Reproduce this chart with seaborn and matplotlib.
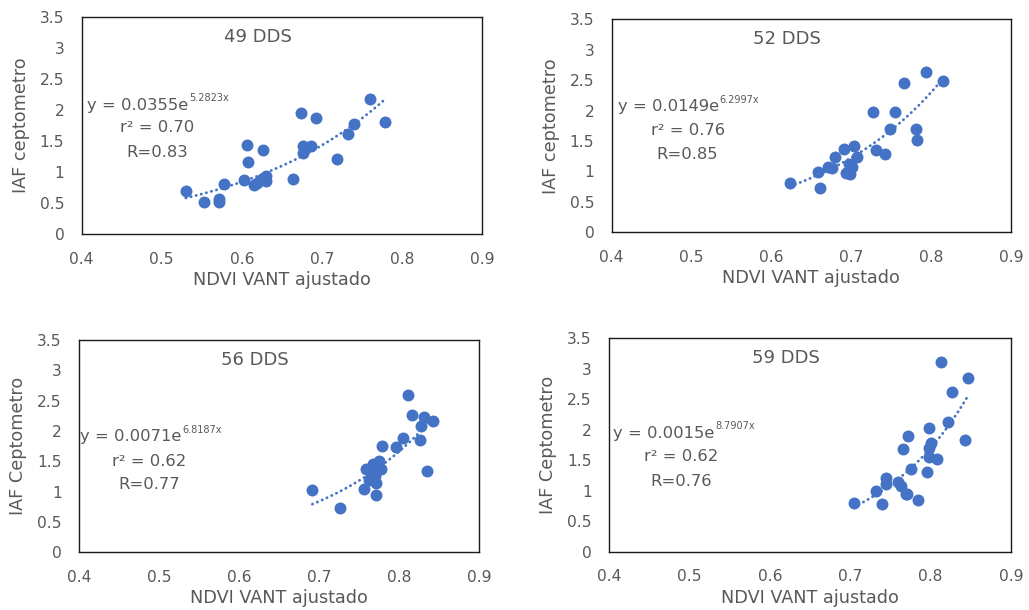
import numpy as np
import pandas as pd
import seaborn as sns
import matplotlib
matplotlib.use("Agg")
import matplotlib.pyplot as plt

# ---------------- data ----------------
titles = ["49 DDS", "52 DDS", "56 DDS", "59 DDS"]
ylabels = ["IAF ceptometro", "IAF ceptometro", "IAF Ceptometro", "IAF Ceptometro"]
xlabel = "NDVI VANT ajustado"
x_ticks = [0.4, 0.5, 0.6, 0.7, 0.8, 0.9]
x_ticklabels = ["0.4", "0.5", "0.6", "0.7", "0.8", "0.9"]
y_ticks = [0, 0.5, 1, 1.5, 2, 2.5, 3, 3.5]
y_ticklabels = ["0", "0.5", "1", "1.5", "2", "2.5", "3", "3.5"]

ndvi_49 = [0.530, 0.553, 0.572, 0.572, 0.578, 0.603, 0.606, 0.608, 0.615, 0.619,
           0.626, 0.625, 0.630, 0.630, 0.6645, 0.674, 0.676, 0.676, 0.687, 0.693,
           0.7195, 0.733, 0.740, 0.760, 0.779]
iaf_49 = [0.70, 0.52, 0.52, 0.57, 0.81, 0.876, 1.435, 1.166, 0.795, 0.83,
          1.36, 0.887, 0.94, 0.86, 0.897, 1.956, 1.424, 1.306, 1.413, 1.87,
          1.214, 1.62, 1.78, 2.18, 1.806]

ndvi_52 = [0.6236, 0.6584, 0.661, 0.671, 0.676, 0.679, 0.6905, 0.703, 0.707, 0.6977,
           0.701, 0.694, 0.698, 0.727, 0.7315, 0.742, 0.748, 0.755, 0.766, 0.781,
           0.782, 0.793, 0.815]
iaf_52 = [0.815, 0.985, 0.733, 1.078, 1.05, 1.24, 1.37, 1.418, 1.24, 1.13,
          1.08, 0.98, 0.95, 1.98, 1.35, 1.28, 1.70, 1.98, 2.46, 1.70,
          1.516, 2.64, 2.49]

ndvi_56 = [0.6917, 0.726, 0.7567, 0.759, 0.771, 0.771, 0.765, 0.768, 0.772, 0.775,
           0.770, 0.763, 0.778, 0.779, 0.796, 0.8054, 0.8117, 0.816, 0.826, 0.8275,
           0.831, 0.843, 0.835]
iaf_56 = [1.019, 0.738, 1.047, 1.378, 0.948, 1.15, 1.30, 1.45, 1.40, 1.50,
          1.25, 1.20, 1.38, 1.758, 1.736, 1.885, 2.60, 2.265, 1.846, 2.09,
          2.23, 2.16, 1.344]

ndvi_59 = [0.7047, 0.7317, 0.739, 0.744, 0.744, 0.760, 0.763, 0.769, 0.771, 0.766,
           0.7715, 0.7756, 0.7847, 0.796, 0.798, 0.798, 0.800, 0.798, 0.808, 0.8125,
           0.8212, 0.826, 0.843, 0.846]
iaf_59 = [0.793, 1.00, 0.78, 1.214, 1.11, 1.137, 1.083, 0.94, 0.94, 1.679,
          1.90, 1.35, 0.847, 1.312, 2.023, 1.695, 1.788, 1.558, 1.52, 3.116,
          2.132, 2.624, 1.832, 2.854]

coef_a = [0.0355, 0.0149, 0.0071, 0.0015]
coef_b = [5.2823, 6.2997, 6.8187, 8.7907]
eq_main = ["y = 0.0355e", "y = 0.0149e", "y = 0.0071e", "y = 0.0015e"]
eq_sup = ["5.2823x", "6.2997x", "6.8187x", "8.7907x"]
r2_text = ["r\u00b2 = 0.70", "r\u00b2 = 0.76", "r\u00b2 = 0.62", "r\u00b2 = 0.62"]
R_text = ["R=0.83", "R=0.85", "R=0.77", "R=0.76"]

xs = [ndvi_49, ndvi_52, ndvi_56, ndvi_59]
ys = [iaf_49, iaf_52, iaf_56, iaf_59]

# ---------------- style ----------------
sns.set_theme(style="white")
plt.rcParams["font.family"] = ["DejaVu Sans"]
BLUE = "#4472C4"
GRAY = "#595959"

W, H = 1029, 610
fig = plt.figure(figsize=(W / 100, H / 100), dpi=100)
fig.patch.set_facecolor("white")

# panel boxes in pixels: left, top, right, bottom
boxes = [(81.7, 16.7, 482.0, 234.3),
         (611.7, 19.3, 1011.0, 232.3),
         (79.0, 340.0, 479.0, 552.3),
         (609.0, 338.3, 1011.0, 551.7)]
eq_left = [0.014, 0.015, 0.003, 0.011]
eq_center = [0.188, 0.19, 0.175, 0.18]
eq_rows = [(0.594, 0.489, 0.376), (0.590, 0.476, 0.363),
           (0.545, 0.430, 0.320), (0.555, 0.448, 0.330)]

for i in range(4):
    l, t, r, b = boxes[i]
    ax = fig.add_axes([l / W, (H - b) / H, (r - l) / W, (b - t) / H])
    axw, axh = r - l, b - t

    xfit = np.linspace(min(xs[i]), max(xs[i]), 100)
    yfit = coef_a[i] * np.exp(coef_b[i] * xfit)
    ax.plot(xfit, yfit, color=BLUE, lw=2.0, linestyle=(0, (0.1, 1.8)),
            dash_capstyle="round", zorder=2)

    df = pd.DataFrame({"x": xs[i], "y": ys[i]})
    sns.scatterplot(data=df, x="x", y="y", ax=ax, color=BLUE, s=74,
                    linewidth=0, alpha=1, zorder=3)

    ax.set_xlim(0.4, 0.9)
    ax.set_ylim(0, 3.5)
    ax.set_xticks(x_ticks)
    ax.set_xticklabels(x_ticklabels)
    ax.set_yticks(y_ticks)
    ax.set_yticklabels(y_ticklabels)
    ax.tick_params(axis="both", length=0, labelsize=11.2, labelcolor=GRAY)
    ax.tick_params(axis="x", pad=12.5)
    ax.tick_params(axis="y", pad=12.5)
    for s in ax.spines.values():
        s.set_visible(True)
        s.set_color("#1a1a1a")
        s.set_linewidth(1.0)

    ax.set_xlabel(xlabel, fontsize=12.7, color=GRAY, va="center")
    ax.xaxis.set_label_coords(0.5, -46 / axh)
    ax.set_ylabel(ylabels[i], fontsize=12.7, color=GRAY, va="center")
    ax.yaxis.set_label_coords(-61 / axw, 0.5)

    ax.text(0.44, 0.906, titles[i], transform=ax.transAxes, ha="center",
            va="center", fontsize=13, color=GRAY)

    r1, r2, r3 = eq_rows[i]
    main = ax.text(eq_left[i], r1, eq_main[i], transform=ax.transAxes,
                   ha="left", va="center", fontsize=11.8, color=GRAY)
    ax.annotate(eq_sup[i], xy=(1.0, 0.62), xycoords=main, xytext=(0.3, 0),
                textcoords="offset points", ha="left", va="bottom",
                fontsize=7, color=GRAY)
    ax.text(eq_center[i], r2, r2_text[i], transform=ax.transAxes,
            ha="center", va="center", fontsize=11.8, color=GRAY)
    ax.text(eq_center[i], r3, R_text[i], transform=ax.transAxes,
            ha="center", va="center", fontsize=11.8, color=GRAY)

fig.savefig("out.png", dpi=100, facecolor="white")
